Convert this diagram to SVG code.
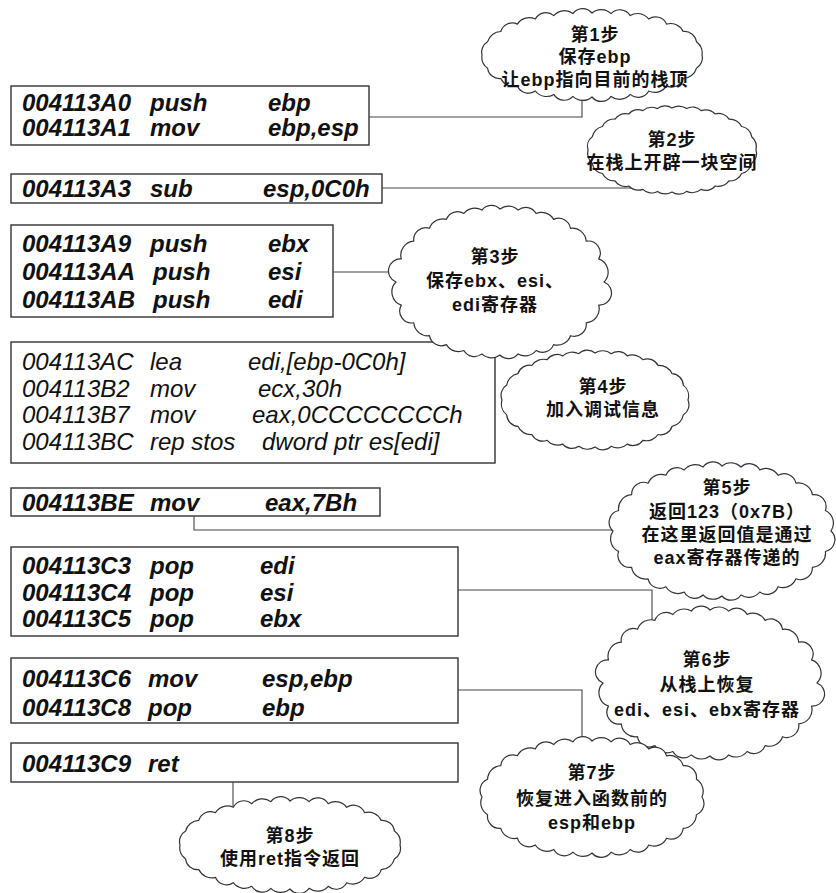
<svg xmlns="http://www.w3.org/2000/svg" width="836" height="893" viewBox="0 0 836 893">
<style>
.box{fill:none;stroke:#333;stroke-width:1.4}
.cl{fill:#fff;stroke:#333;stroke-width:1.2;stroke-linejoin:round}
.conn{fill:none;stroke:#444;stroke-width:1.1}
.b{font-family:"Liberation Sans",Arial,sans-serif;font-size:24px;font-style:italic;font-weight:bold;fill:#111}
.n{font-family:"Liberation Sans",Arial,sans-serif;font-size:24px;font-style:italic;fill:#111}
.t{font-family:"Liberation Sans","Noto Sans CJK SC",sans-serif;font-size:18px;font-weight:bold;fill:#111;text-anchor:middle;letter-spacing:1px}
</style>
<rect width="836" height="893" fill="#fff"/>

<g id="box1">
<rect class="box" x="11" y="86" width="358" height="59"/>
<text class="b" y="111"><tspan x="22">004113A0</tspan><tspan x="150">push</tspan><tspan x="268">ebp</tspan></text>
<text class="b" y="136"><tspan x="22">004113A1</tspan><tspan x="150">mov</tspan><tspan x="268">ebp,esp</tspan></text>
</g>
<g id="box2">
<rect class="box" x="11" y="174" width="371" height="29"/>
<text class="b" y="197"><tspan x="22">004113A3</tspan><tspan x="150">sub</tspan><tspan x="263">esp,0C0h</tspan></text>
</g>
<g id="box3">
<rect class="box" x="11" y="225" width="322" height="92"/>
<text class="b" y="252"><tspan x="22">004113A9</tspan><tspan x="150">push</tspan><tspan x="268">ebx</tspan></text>
<text class="b" y="280"><tspan x="22">004113AA</tspan><tspan x="153">push</tspan><tspan x="268">esi</tspan></text>
<text class="b" y="308"><tspan x="22">004113AB</tspan><tspan x="153">push</tspan><tspan x="268">edi</tspan></text>
</g>
<g id="box4">
<rect class="box" x="11" y="342" width="484" height="121"/>
<text class="n" y="370"><tspan x="22">004113AC</tspan><tspan x="150">lea</tspan><tspan x="248">edi,[ebp-0C0h]</tspan></text>
<text class="n" y="397"><tspan x="22">004113B2</tspan><tspan x="150">mov</tspan><tspan x="258">ecx,30h</tspan></text>
<text class="n" y="423"><tspan x="22">004113B7</tspan><tspan x="150">mov</tspan><tspan x="252">eax,0CCCCCCCCh</tspan></text>
<text class="n" y="450"><tspan x="22">004113BC</tspan><tspan x="150">rep stos</tspan><tspan x="262">dword ptr es[edi]</tspan></text>
</g>
<g id="box5">
<rect class="box" x="11" y="488" width="369" height="28"/>
<text class="b" y="511"><tspan x="22">004113BE</tspan><tspan x="150">mov</tspan><tspan x="265">eax,7Bh</tspan></text>
</g>
<g id="box6">
<rect class="box" x="11" y="547" width="447" height="89"/>
<text class="b" y="574"><tspan x="22">004113C3</tspan><tspan x="150">pop</tspan><tspan x="260">edi</tspan></text>
<text class="b" y="601"><tspan x="22">004113C4</tspan><tspan x="150">pop</tspan><tspan x="260">esi</tspan></text>
<text class="b" y="627"><tspan x="22">004113C5</tspan><tspan x="150">pop</tspan><tspan x="260">ebx</tspan></text>
</g>
<g id="box7">
<rect class="box" x="11" y="658" width="447" height="65"/>
<text class="b" y="687"><tspan x="22">004113C6</tspan><tspan x="148">mov</tspan><tspan x="262">esp,ebp</tspan></text>
<text class="b" y="716"><tspan x="22">004113C8</tspan><tspan x="148">pop</tspan><tspan x="262">ebp</tspan></text>
</g>
<g id="box8">
<rect class="box" x="11" y="743" width="447" height="39"/>
<text class="b" y="772"><tspan x="22">004113C9</tspan><tspan x="148">ret</tspan></text>
</g>

<g id="connectors">
<path class="conn" d="M369,117 H582 V70"/>
<path class="conn" d="M382,188 H660"/>
<path class="conn" d="M333,272 H450"/>
<path class="conn" d="M194,516 V530 H720"/>
<path class="conn" d="M458,590 H652 V680"/>
<path class="conn" d="M458,690 H582 V790"/>
<path class="conn" d="M233,782 V840"/>
</g>

<g id="step1" transform="translate(592,55)">
<path class="cl" d="M110,0 A12 12 0 0 1 104.4,13.3 A14 14 0 0 1 91.2,23.5 A12 12 0 0 1 74.6,30.9 A14 14 0 0 1 56.7,36 A12 12 0 0 1 38.2,39.4 A14 14 0 0 1 19.1,41.4 A12 12 0 0 1 0,42 A14 14 0 0 1 -19.1,41.4 A12 12 0 0 1 -38.2,39.4 A14 14 0 0 1 -56.7,36 A12 12 0 0 1 -74.6,30.9 A14 14 0 0 1 -91.2,23.5 A12 12 0 0 1 -104.4,13.3 A14 14 0 0 1 -110,0 A12 12 0 0 1 -104.4,-13.3 A14 14 0 0 1 -91.2,-23.5 A12 12 0 0 1 -74.6,-30.9 A14 14 0 0 1 -56.7,-36 A12 12 0 0 1 -38.2,-39.4 A14 14 0 0 1 -19.1,-41.4 A12 12 0 0 1 0,-42 A14 14 0 0 1 19.1,-41.4 A12 12 0 0 1 38.2,-39.4 A14 14 0 0 1 56.7,-36 A12 12 0 0 1 74.6,-30.9 A14 14 0 0 1 91.2,-23.5 A12 12 0 0 1 104.4,-13.3 A14 14 0 0 1 110,0Z"/>
<text class="t" x="3" y="-14">第1步</text>
<text class="t" x="3" y="8">保存ebp</text>
<text class="t" x="3" y="31">让ebp指向目前的栈顶</text>
</g>

<g id="step2" transform="translate(672,150)">
<path class="cl" d="M84,0 A12 12 0 0 1 79.7,13.3 A14 14 0 0 1 69.6,23.5 A12 12 0 0 1 57,30.9 A14 14 0 0 1 43.3,36 A12 12 0 0 1 29.1,39.4 A14 14 0 0 1 14.6,41.4 A12 12 0 0 1 0,42 A14 14 0 0 1 -14.6,41.4 A12 12 0 0 1 -29.1,39.4 A14 14 0 0 1 -43.3,36 A12 12 0 0 1 -57,30.9 A14 14 0 0 1 -69.6,23.5 A12 12 0 0 1 -79.7,13.3 A14 14 0 0 1 -84,0 A12 12 0 0 1 -79.7,-13.3 A14 14 0 0 1 -69.6,-23.5 A12 12 0 0 1 -57,-30.9 A14 14 0 0 1 -43.3,-36 A12 12 0 0 1 -29.1,-39.4 A14 14 0 0 1 -14.6,-41.4 A12 12 0 0 1 0,-42 A14 14 0 0 1 14.6,-41.4 A12 12 0 0 1 29.1,-39.4 A14 14 0 0 1 43.3,-36 A12 12 0 0 1 57,-30.9 A14 14 0 0 1 69.6,-23.5 A12 12 0 0 1 79.7,-13.3 A14 14 0 0 1 84,0Z"/>
<text class="t" x="0" y="-4">第2步</text>
<text class="t" x="0" y="19">在栈上开辟一块空间</text>
</g>

<g id="step3" transform="translate(500,282)">
<path class="cl" d="M104,0 A12 12 0 0 1 98.7,23.1 A14 14 0 0 1 86.2,40.8 A12 12 0 0 1 70.5,53.7 A14 14 0 0 1 53.6,62.6 A12 12 0 0 1 36.1,68.5 A14 14 0 0 1 18.1,71.9 A12 12 0 0 1 0,73 A14 14 0 0 1 -18.1,71.9 A12 12 0 0 1 -36.1,68.5 A14 14 0 0 1 -53.6,62.6 A12 12 0 0 1 -70.5,53.7 A14 14 0 0 1 -86.2,40.8 A12 12 0 0 1 -98.7,23.1 A14 14 0 0 1 -104,0 A12 12 0 0 1 -98.7,-23.1 A14 14 0 0 1 -86.2,-40.8 A12 12 0 0 1 -70.5,-53.7 A14 14 0 0 1 -53.6,-62.6 A12 12 0 0 1 -36.1,-68.5 A14 14 0 0 1 -18.1,-71.9 A12 12 0 0 1 0,-73 A14 14 0 0 1 18.1,-71.9 A12 12 0 0 1 36.1,-68.5 A14 14 0 0 1 53.6,-62.6 A12 12 0 0 1 70.5,-53.7 A14 14 0 0 1 86.2,-40.8 A12 12 0 0 1 98.7,-23.1 A14 14 0 0 1 104,0Z"/>
<text class="t" x="-5" y="-19">第3步</text>
<text class="t" x="-5" y="5">保存ebx、esi、</text>
<text class="t" x="-5" y="29">edi寄存器</text>
</g>

<g id="step4" transform="translate(595,400)">
<path class="cl" d="M93,0 A12 12 0 0 1 88.3,14.9 A14 14 0 0 1 77.1,26.3 A12 12 0 0 1 63.1,34.5 A14 14 0 0 1 47.9,40.3 A12 12 0 0 1 32.3,44.1 A14 14 0 0 1 16.2,46.3 A12 12 0 0 1 0,47 A14 14 0 0 1 -16.2,46.3 A12 12 0 0 1 -32.3,44.1 A14 14 0 0 1 -47.9,40.3 A12 12 0 0 1 -63.1,34.5 A14 14 0 0 1 -77.1,26.3 A12 12 0 0 1 -88.3,14.9 A14 14 0 0 1 -93,0 A12 12 0 0 1 -88.3,-14.9 A14 14 0 0 1 -77.1,-26.3 A12 12 0 0 1 -63.1,-34.5 A14 14 0 0 1 -47.9,-40.3 A12 12 0 0 1 -32.3,-44.1 A14 14 0 0 1 -16.2,-46.3 A12 12 0 0 1 0,-47 A14 14 0 0 1 16.2,-46.3 A12 12 0 0 1 32.3,-44.1 A14 14 0 0 1 47.9,-40.3 A12 12 0 0 1 63.1,-34.5 A14 14 0 0 1 77.1,-26.3 A12 12 0 0 1 88.3,-14.9 A14 14 0 0 1 93,0Z"/>
<text class="t" x="8" y="-7">第4步</text>
<text class="t" x="8" y="16">加入调试信息</text>
</g>

<g id="step5" transform="translate(722,531)">
<path class="cl" d="M109,0 A12 12 0 0 1 103.4,20.5 A14 14 0 0 1 90.4,36.3 A12 12 0 0 1 73.9,47.8 A14 14 0 0 1 56.1,55.7 A12 12 0 0 1 37.8,61 A14 14 0 0 1 19,64 A12 12 0 0 1 0,65 A14 14 0 0 1 -19,64 A12 12 0 0 1 -37.8,61 A14 14 0 0 1 -56.1,55.7 A12 12 0 0 1 -73.9,47.8 A14 14 0 0 1 -90.4,36.3 A12 12 0 0 1 -103.4,20.5 A14 14 0 0 1 -109,0 A12 12 0 0 1 -103.4,-20.5 A14 14 0 0 1 -90.4,-36.3 A12 12 0 0 1 -73.9,-47.8 A14 14 0 0 1 -56.1,-55.7 A12 12 0 0 1 -37.8,-61 A14 14 0 0 1 -19,-64 A12 12 0 0 1 0,-65 A14 14 0 0 1 19,-64 A12 12 0 0 1 37.8,-61 A14 14 0 0 1 56.1,-55.7 A12 12 0 0 1 73.9,-47.8 A14 14 0 0 1 90.4,-36.3 A12 12 0 0 1 103.4,-20.5 A14 14 0 0 1 109,0Z"/>
<text class="t" x="5" y="-37">第5步</text>
<text class="t" x="5" y="-13">返回123（0x7B）</text>
<text class="t" x="5" y="10">在这里返回值是通过</text>
<text class="t" x="5" y="33">eax寄存器传递的</text>
</g>

<g id="step6" transform="translate(710,683)">
<path class="cl" d="M107,0 A12 12 0 0 1 101.5,23.1 A14 14 0 0 1 88.7,40.8 A12 12 0 0 1 72.5,53.7 A14 14 0 0 1 55.1,62.6 A12 12 0 0 1 37.1,68.5 A14 14 0 0 1 18.6,71.9 A12 12 0 0 1 0,73 A14 14 0 0 1 -18.6,71.9 A12 12 0 0 1 -37.1,68.5 A14 14 0 0 1 -55.1,62.6 A12 12 0 0 1 -72.5,53.7 A14 14 0 0 1 -88.7,40.8 A12 12 0 0 1 -101.5,23.1 A14 14 0 0 1 -107,0 A12 12 0 0 1 -101.5,-23.1 A14 14 0 0 1 -88.7,-40.8 A12 12 0 0 1 -72.5,-53.7 A14 14 0 0 1 -55.1,-62.6 A12 12 0 0 1 -37.1,-68.5 A14 14 0 0 1 -18.6,-71.9 A12 12 0 0 1 0,-73 A14 14 0 0 1 18.6,-71.9 A12 12 0 0 1 37.1,-68.5 A14 14 0 0 1 55.1,-62.6 A12 12 0 0 1 72.5,-53.7 A14 14 0 0 1 88.7,-40.8 A12 12 0 0 1 101.5,-23.1 A14 14 0 0 1 107,0Z"/>
<text class="t" x="-3" y="-17">第6步</text>
<text class="t" x="-3" y="8">从栈上恢复</text>
<text class="t" x="-3" y="33">edi、esi、ebx寄存器</text>
</g>

<g id="step7" transform="translate(592,797)">
<path class="cl" d="M110,0 A12 12 0 0 1 104.4,17.7 A14 14 0 0 1 91.2,31.3 A12 12 0 0 1 74.6,41.2 A14 14 0 0 1 56.7,48 A12 12 0 0 1 38.2,52.5 A14 14 0 0 1 19.1,55.2 A12 12 0 0 1 0,56 A14 14 0 0 1 -19.1,55.2 A12 12 0 0 1 -38.2,52.5 A14 14 0 0 1 -56.7,48 A12 12 0 0 1 -74.6,41.2 A14 14 0 0 1 -91.2,31.3 A12 12 0 0 1 -104.4,17.7 A14 14 0 0 1 -110,0 A12 12 0 0 1 -104.4,-17.7 A14 14 0 0 1 -91.2,-31.3 A12 12 0 0 1 -74.6,-41.2 A14 14 0 0 1 -56.7,-48 A12 12 0 0 1 -38.2,-52.5 A14 14 0 0 1 -19.1,-55.2 A12 12 0 0 1 0,-56 A14 14 0 0 1 19.1,-55.2 A12 12 0 0 1 38.2,-52.5 A14 14 0 0 1 56.7,-48 A12 12 0 0 1 74.6,-41.2 A14 14 0 0 1 91.2,-31.3 A12 12 0 0 1 104.4,-17.7 A14 14 0 0 1 110,0Z"/>
<text class="t" x="0" y="-18">第7步</text>
<text class="t" x="0" y="8">恢复进入函数前的</text>
<text class="t" x="0" y="32">esp和ebp</text>
</g>

<g id="step8" transform="translate(290,845)">
<path class="cl" d="M110,0 A12 12 0 0 1 104.4,13.9 A14 14 0 0 1 91.2,24.6 A12 12 0 0 1 74.6,32.3 A14 14 0 0 1 56.7,37.7 A12 12 0 0 1 38.2,41.3 A14 14 0 0 1 19.1,43.3 A12 12 0 0 1 0,44 A14 14 0 0 1 -19.1,43.3 A12 12 0 0 1 -38.2,41.3 A14 14 0 0 1 -56.7,37.7 A12 12 0 0 1 -74.6,32.3 A14 14 0 0 1 -91.2,24.6 A12 12 0 0 1 -104.4,13.9 A14 14 0 0 1 -110,0 A12 12 0 0 1 -104.4,-13.9 A14 14 0 0 1 -91.2,-24.6 A12 12 0 0 1 -74.6,-32.3 A14 14 0 0 1 -56.7,-37.7 A12 12 0 0 1 -38.2,-41.3 A14 14 0 0 1 -19.1,-43.3 A12 12 0 0 1 0,-44 A14 14 0 0 1 19.1,-43.3 A12 12 0 0 1 38.2,-41.3 A14 14 0 0 1 56.7,-37.7 A12 12 0 0 1 74.6,-32.3 A14 14 0 0 1 91.2,-24.6 A12 12 0 0 1 104.4,-13.9 A14 14 0 0 1 110,0Z"/>
<text class="t" x="0" y="-3">第8步</text>
<text class="t" x="0" y="20">使用ret指令返回</text>
</g>
</svg>
